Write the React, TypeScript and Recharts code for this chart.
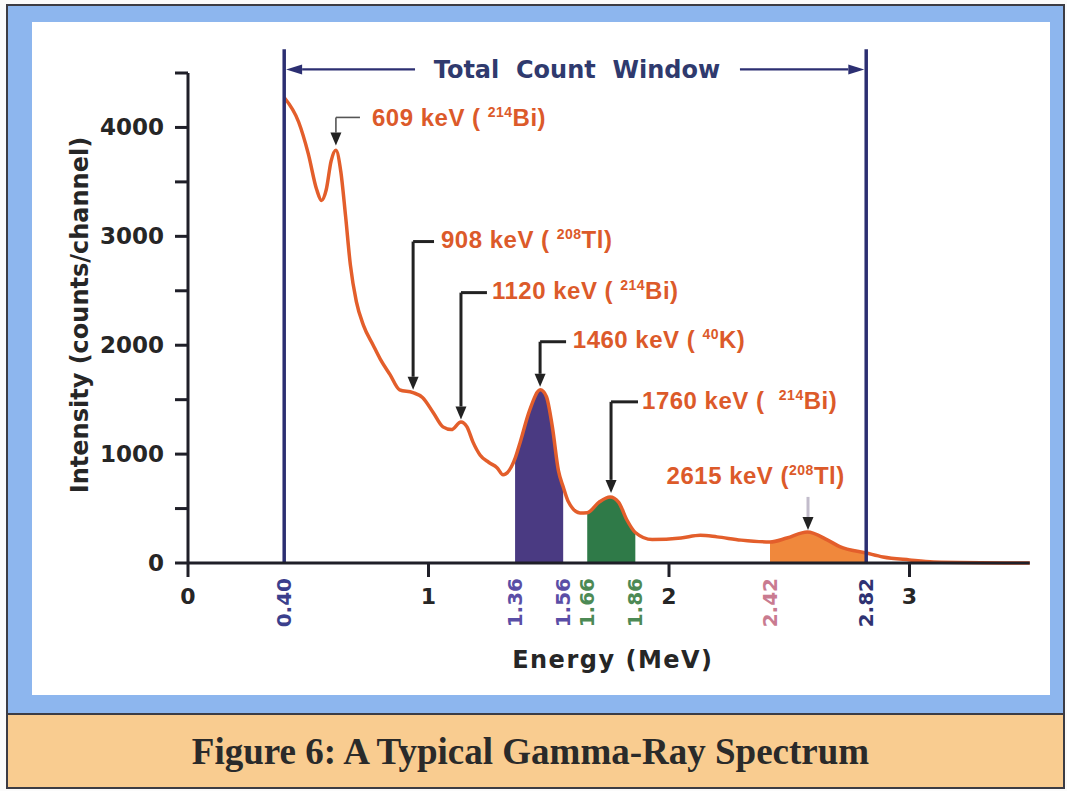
import {
  ComposedChart,
  Line,
  Area,
  XAxis,
  YAxis,
  ReferenceLine,
  ReferenceDot,
} from "recharts";

// ---------------------------------------------------------------------------
// Data
// ---------------------------------------------------------------------------
const ENERGY_MEV = [
  0.4, 0.46, 0.5, 0.535, 0.555, 0.575, 0.595, 0.615, 0.635, 0.655, 0.675, 0.7,
  0.73, 0.77, 0.8, 0.84, 0.88, 0.935, 0.975, 1.02, 1.06, 1.095, 1.135, 1.16,
  1.185, 1.215, 1.25, 1.285, 1.31, 1.36, 1.38, 1.42, 1.465, 1.49, 1.515, 1.54,
  1.56, 1.58, 1.63, 1.66, 1.71, 1.755, 1.79, 1.825, 1.86, 1.93, 2.05, 2.13, 2.2,
  2.3, 2.42, 2.49, 2.575, 2.66, 2.71, 2.82, 2.89, 3.0, 3.1, 3.5,
];
const COUNTS = [
  4275, 4050, 3760, 3430, 3330, 3430, 3690, 3790, 3600, 3190, 2740, 2400, 2180,
  2000, 1870, 1730, 1590, 1565, 1520, 1380, 1250, 1225, 1295, 1250, 1110, 990,
  925, 875, 810, 960, 1100, 1400, 1590, 1530, 1250, 850, 700, 570, 460, 462, 560,
  606, 560, 395, 280, 215, 230, 255, 240, 210, 193, 229, 285, 210, 150, 92, 55,
  28, 10, 0,
];

const X_TICKS = [0, 0.4, 1, 1.36, 1.56, 1.66, 1.86, 2, 2.42, 2.82, 3];
const Y_TICKS = [0, 500, 1000, 1500, 2000, 2500, 3000, 3500, 4000, 4500];

const COUNT_WINDOW = [0.4, 2.82];
const K40_BAND = [1.36, 1.56];
const BI214_BAND = [1.66, 1.86];
const TL208_BAND = [2.42, 2.82];

// peak labels: energy text, mass number, element
const PEAK_LABELS = [
  { kev: "609", mass: "214", el: "Bi" },
  { kev: "908", mass: "208", el: "Tl" },
  { kev: "1120", mass: "214", el: "Bi" },
  { kev: "1460", mass: "40", el: "K" },
  { kev: "1760", mass: "214", el: "Bi" },
  { kev: "2615", mass: "208", el: "Tl" },
];

// ---------------------------------------------------------------------------
// Styles / layout
// ---------------------------------------------------------------------------
const SANS = "'Liberation Sans', Arial, Helvetica, sans-serif";
const WIDE = "'DejaVu Sans', Verdana, sans-serif";
const AXIS = "#1f1f28";
const INK = "#262626";
const CURVE = "#e35e2b";
const NAVY = "#2c2f72";
const LABEL_ORANGE = "#dc5a2a";

const TICK_COLORS: Record<string, string> = {
  "0.4": "#3b3f8c",
  "1.36": "#5a4ea6",
  "1.56": "#5a4ea6",
  "1.66": "#4d8a55",
  "1.86": "#4d8a55",
  "2.42": "#c97b90",
  "2.82": "#2f3272",
};

// annotation placement in data units (arrow x, bracket top, arrow tip, bracket end, text x, text y)
const PEAK_LAYOUT = [
  { ax: 0.615, top: 4092, tip: 3834, hEnd: 0.715, tx: 0.765, ty: 4092, thin: true, pad: " " },
  { ax: 0.936, top: 2952, tip: 1591, hEnd: 1.023, tx: 1.052, ty: 2970, pad: " " },
  { ax: 1.135, top: 2483, tip: 1318, hEnd: 1.243, tx: 1.264, ty: 2501, pad: " " },
  { ax: 1.464, top: 2032, tip: 1618, hEnd: 1.572, tx: 1.6, ty: 2051, pad: " " },
  { ax: 1.759, top: 1480, tip: 644, hEnd: 1.871, tx: 1.888, ty: 1490, pad: "  " },
  { ax: 2.578, top: 607, tip: 303, hEnd: null, tx: 1.99, ty: 800, pad: "" },
];

const inBand = (e: number, band: number[]) => e >= band[0] && e <= band[1];

const data = ENERGY_MEV.map((e, i) => ({
  energy: e,
  counts: COUNTS[i],
  k40: inBand(e, K40_BAND) ? COUNTS[i] : null,
  bi214: inBand(e, BI214_BAND) ? COUNTS[i] : null,
  tl208: inBand(e, TL208_BAND) ? COUNTS[i] : null,
}));

// ---------------------------------------------------------------------------
// Shapes
// ---------------------------------------------------------------------------
function makeArrow(color: string, width: number, headColor: string, headW = 11, headL = 14) {
  return (p: any) => {
    const { x1, y1, x2, y2 } = p;
    const a = Math.atan2(y2 - y1, x2 - x1);
    const bx = x2 - headL * Math.cos(a);
    const by = y2 - headL * Math.sin(a);
    const nx = (-Math.sin(a) * headW) / 2;
    const ny = (Math.cos(a) * headW) / 2;
    return (
      <g>
        <line x1={x1} y1={y1} x2={bx} y2={by} stroke={color} strokeWidth={width} />
        <polygon
          points={`${x2},${y2} ${bx + nx},${by + ny} ${bx - nx},${by - ny}`}
          fill={headColor}
        />
      </g>
    );
  };
}

function makePeakText(kev: string, mass: string, el: string, pad: string) {
  return (p: any) => (
    <text
      x={p.cx}
      y={p.cy}
      dy="0.35em"
      fill={LABEL_ORANGE}
      fontFamily={SANS}
      fontSize={24}
      fontWeight={700}
      letterSpacing={0.5}
      style={{ whiteSpace: "pre" }}
    >
      {`${kev} keV (${pad}`}
      <tspan fontSize={14} dy={-9}>
        {mass}
      </tspan>
      <tspan dy={9}>{`${el})`}</tspan>
    </text>
  );
}

function windowText(p: any) {
  return (
    <text
      x={p.cx}
      y={p.cy}
      dy="0.35em"
      textAnchor="middle"
      fill="#2f3a6e"
      fontFamily={WIDE}
      fontSize={24}
      fontWeight={700}
      style={{ whiteSpace: "pre" }}
    >
      Total  Count  Window
    </text>
  );
}

function EnergyTick(props: any) {
  const { x, y, payload } = props;
  const v: number = payload.value;
  if (Number.isInteger(v)) {
    return (
      <g>
        <line x1={x} y1={y} x2={x} y2={y + 14} stroke={AXIS} strokeWidth={3} />
        <text
          x={x}
          y={y + 33}
          dy="0.35em"
          textAnchor="middle"
          fill={INK}
          fontFamily={WIDE}
          fontSize={22}
          fontWeight={700}
        >
          {v}
        </text>
      </g>
    );
  }
  const ty = y + 15;
  return (
    <text
      x={x}
      y={ty}
      dy="0.35em"
      textAnchor="end"
      transform={`rotate(-90 ${x} ${ty})`}
      fill={TICK_COLORS[String(v)] ?? INK}
      fontFamily={WIDE}
      fontSize={20}
      fontWeight={700}
    >
      {v.toFixed(2)}
    </text>
  );
}

function CountTick(props: any) {
  const { x, y, payload } = props;
  const v: number = payload.value;
  if (v % 1000 !== 0) return <g />;
  return (
    <text
      x={x}
      y={y}
      dy="0.35em"
      textAnchor="end"
      fill={INK}
      fontFamily={WIDE}
      fontSize={23}
      fontWeight={700}
    >
      {v}
    </text>
  );
}

function YTitle(props: any) {
  const vb = props.viewBox ?? { x: 88, y: 73, height: 490 };
  const cx = vb.x - 8;
  const cy = vb.y + vb.height / 2 - 3;
  return (
    <text
      x={cx}
      y={cy}
      dy="0.35em"
      textAnchor="middle"
      transform={`rotate(-90 ${cx} ${cy})`}
      fill={INK}
      fontFamily={WIDE}
      fontSize={24}
      fontWeight={700}
    >
      Intensity (counts/channel)
    </text>
  );
}

function XTitle(props: any) {
  const vb = props.viewBox ?? { x: 188, y: 563, width: 842 };
  return (
    <text
      x={vb.x + vb.width / 2 + 4}
      y={vb.y + 97}
      dy="0.35em"
      textAnchor="middle"
      fill={INK}
      fontFamily={WIDE}
      fontSize={24}
      fontWeight={700}
      letterSpacing={1.5}
    >
      Energy (MeV)
    </text>
  );
}

// ---------------------------------------------------------------------------
// Chart
// ---------------------------------------------------------------------------
export default function App() {
  const [winL, winR] = COUNT_WINDOW;
  return (
    <div
      style={{
        position: "absolute",
        left: 0,
        top: 0,
        width: 1067,
        height: 791,
        background: "#fbfbfb",
        overflow: "hidden",
      }}
    >
      {/* blue frame */}
      <div
        style={{
          position: "absolute",
          left: 6,
          top: 4,
          width: 1059,
          height: 712,
          background: "#8db6ee",
          border: "2px solid #3c3c44",
          boxSizing: "border-box",
        }}
      />
      {/* white panel */}
      <div
        style={{
          position: "absolute",
          left: 32,
          top: 22,
          width: 1018,
          height: 673,
          background: "#ffffff",
        }}
      />
      {/* caption */}
      <div
        style={{
          position: "absolute",
          left: 6,
          top: 713,
          width: 1059,
          height: 76,
          background: "#f9cc90",
          border: "2px solid #3c3c44",
          boxSizing: "border-box",
          display: "flex",
          alignItems: "center",
          justifyContent: "center",
          fontFamily: "'Liberation Serif', 'Times New Roman', serif",
          fontWeight: 700,
          fontSize: 37,
          color: "#2a2a2a",
          paddingRight: 10,
        }}
      >
        Figure 6: A Typical Gamma-Ray Spectrum
      </div>

      <div style={{ position: "absolute", left: 0, top: 0 }}>
        <ComposedChart
          width={1067}
          height={700}
          data={data}
          margin={{ top: 73, right: 37.25, left: 88, bottom: 77 }}
        >
          <XAxis
            dataKey="energy"
            type="number"
            domain={[0, 3.5]}
            ticks={X_TICKS}
            interval={0}
            tick={<EnergyTick />}
            tickLine={false}
            tickSize={0}
            tickMargin={0}
            axisLine={{ stroke: AXIS, strokeWidth: 3 }}
            height={60}
            label={{ content: XTitle }}
          />
          <YAxis
            type="number"
            domain={[0, 4500]}
            ticks={Y_TICKS}
            interval={0}
            tick={<CountTick />}
            tickSize={13}
            tickMargin={11}
            tickLine={{ stroke: AXIS, strokeWidth: 3 }}
            axisLine={{ stroke: AXIS, strokeWidth: 3 }}
            width={100}
            label={{ content: YTitle }}
          />

          <Area
            dataKey="k40"
            type="monotone"
            stroke="none"
            fill="#4a3a82"
            fillOpacity={1}
            connectNulls={false}
            dot={false}
            activeDot={false}
            isAnimationActive={false}
          />
          <Area
            dataKey="bi214"
            type="monotone"
            stroke="none"
            fill="#2f7a48"
            fillOpacity={1}
            connectNulls={false}
            dot={false}
            activeDot={false}
            isAnimationActive={false}
          />
          <Area
            dataKey="tl208"
            type="monotone"
            stroke="none"
            fill="#f0883c"
            fillOpacity={1}
            connectNulls={false}
            dot={false}
            activeDot={false}
            isAnimationActive={false}
          />
          <Line
            dataKey="counts"
            type="monotone"
            stroke={CURVE}
            strokeWidth={3.5}
            dot={false}
            activeDot={false}
            isAnimationActive={false}
          />

          {/* total count window */}
          <ReferenceLine
            segment={[{ x: winL, y: 0 }, { x: winL, y: 4717 }]}
            stroke={NAVY}
            strokeWidth={3.5}
            ifOverflow="visible"
          />
          <ReferenceLine
            segment={[{ x: winR, y: 0 }, { x: winR, y: 4717 }]}
            stroke={NAVY}
            strokeWidth={3.5}
            ifOverflow="visible"
          />
          <ReferenceLine
            segment={[{ x: 0.944, y: 4533 }, { x: winL + 0.008, y: 4533 }]}
            ifOverflow="visible"
            shape={makeArrow(NAVY, 2.2, NAVY, 10, 16)}
          />
          <ReferenceLine
            segment={[{ x: 2.295, y: 4533 }, { x: winR - 0.008, y: 4533 }]}
            ifOverflow="visible"
            shape={makeArrow(NAVY, 2.2, NAVY, 10, 16)}
          />
          <ReferenceDot
            x={1.617}
            y={4533}
            ifOverflow="visible"
            shape={windowText}
          />

          {/* peak annotations */}
          {PEAK_LABELS.map((lab, i) => {
            const l = PEAK_LAYOUT[i];
            const last = l.hEnd === null;
            const lineColor = l.thin ? "#555" : last ? "#c2bccb" : "#222";
            const lineW = l.thin ? 1.6 : 3;
            return [
              l.hEnd !== null ? (
                <ReferenceLine
                  key={`h${i}`}
                  segment={[{ x: l.ax, y: l.top }, { x: l.hEnd, y: l.top }]}
                  stroke={lineColor}
                  strokeWidth={lineW}
                  ifOverflow="visible"
                />
              ) : null,
              <ReferenceLine
                key={`v${i}`}
                segment={[{ x: l.ax, y: l.top }, { x: l.ax, y: l.tip }]}
                ifOverflow="visible"
                shape={makeArrow(lineColor, lineW, "#222", 11, 13)}
              />,
              <ReferenceDot
                key={`t${i}`}
                x={l.tx}
                y={l.ty}
                ifOverflow="visible"
                shape={makePeakText(lab.kev, lab.mass, lab.el, l.pad)}
              />,
            ];
          })}
        </ComposedChart>
      </div>
    </div>
  );
}
